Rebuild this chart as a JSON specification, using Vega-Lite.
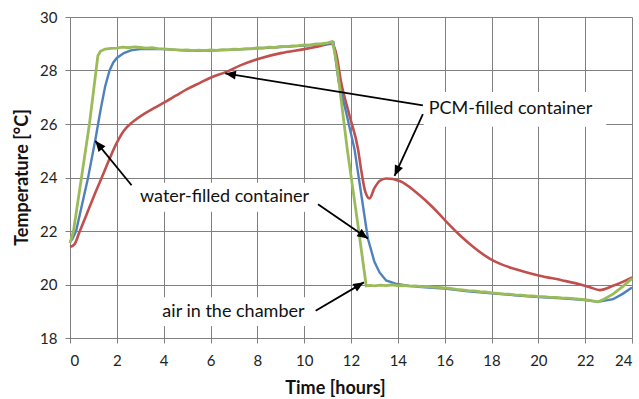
{
  "$schema": "https://vega.github.io/schema/vega-lite/v6.json",
  "width": 562,
  "height": 321,
  "autosize": "none",
  "padding": {"left": 70, "top": 17, "right": 7, "bottom": 61},
  "background": "white",
  "config": {
    "view": {"stroke": null},
    "font": "Lato",
    "axis": {
      "gridColor": "#808080", "gridOpacity": 1, "gridWidth": 1,
      "domainColor": "#808080", "domainWidth": 1,
      "tickColor": "#808080", "tickSize": 5,
      "labelFont": "Lato", "labelFontSize": 15, "labelColor": "#222222",
      "titleFont": "Lato", "titleFontSize": 18, "titleFontWeight": "bold", "titleColor": "#111111"
    }
  },
  "datasets": {
    "series": [
      {"s": "PCM", "t": 0, "v": 21.4}, {"s": "PCM", "t": 0.19, "v": 21.5}, {"s": "PCM", "t": 0.4, "v": 21.95}, {"s": "PCM", "t": 0.7, "v": 22.6}, {"s": "PCM", "t": 1.02, "v": 23.3}, {"s": "PCM", "t": 1.33, "v": 23.94}, {"s": "PCM", "t": 1.5, "v": 24.3}, {"s": "PCM", "t": 1.97, "v": 25.25}, {"s": "PCM", "t": 2.3, "v": 25.75}, {"s": "PCM", "t": 2.68, "v": 26.08}, {"s": "PCM", "t": 3.2, "v": 26.4}, {"s": "PCM", "t": 3.6, "v": 26.6}, {"s": "PCM", "t": 4.11, "v": 26.85}, {"s": "PCM", "t": 4.54, "v": 27.07}, {"s": "PCM", "t": 5, "v": 27.3}, {"s": "PCM", "t": 5.53, "v": 27.53}, {"s": "PCM", "t": 6, "v": 27.73}, {"s": "PCM", "t": 6.67, "v": 27.95}, {"s": "PCM", "t": 7.3, "v": 28.2}, {"s": "PCM", "t": 8.1, "v": 28.45}, {"s": "PCM", "t": 9, "v": 28.65}, {"s": "PCM", "t": 10, "v": 28.8}, {"s": "PCM", "t": 10.6, "v": 28.9}, {"s": "PCM", "t": 11.16, "v": 29.0}, {"s": "PCM", "t": 11.35, "v": 28.7}, {"s": "PCM", "t": 11.58, "v": 27.55}, {"s": "PCM", "t": 11.94, "v": 26.3}, {"s": "PCM", "t": 12.3, "v": 25.06}, {"s": "PCM", "t": 12.45, "v": 24.2}, {"s": "PCM", "t": 12.6, "v": 23.5}, {"s": "PCM", "t": 12.79, "v": 23.22}, {"s": "PCM", "t": 13, "v": 23.6}, {"s": "PCM", "t": 13.22, "v": 23.87}, {"s": "PCM", "t": 13.5, "v": 23.96}, {"s": "PCM", "t": 14.08, "v": 23.87}, {"s": "PCM", "t": 14.79, "v": 23.44}, {"s": "PCM", "t": 15.5, "v": 22.88}, {"s": "PCM", "t": 15.93, "v": 22.48}, {"s": "PCM", "t": 16.64, "v": 21.85}, {"s": "PCM", "t": 17.2, "v": 21.42}, {"s": "PCM", "t": 17.92, "v": 20.97}, {"s": "PCM", "t": 18.35, "v": 20.78}, {"s": "PCM", "t": 19, "v": 20.58}, {"s": "PCM", "t": 20.06, "v": 20.33}, {"s": "PCM", "t": 21, "v": 20.16}, {"s": "PCM", "t": 21.76, "v": 20.01}, {"s": "PCM", "t": 22.2, "v": 19.9}, {"s": "PCM", "t": 22.62, "v": 19.79}, {"s": "PCM", "t": 23.19, "v": 19.95}, {"s": "PCM", "t": 23.6, "v": 20.1}, {"s": "PCM", "t": 24, "v": 20.27},

      {"s": "water", "t": 0, "v": 21.6}, {"s": "water", "t": 0.1, "v": 21.7}, {"s": "water", "t": 0.26, "v": 22.0}, {"s": "water", "t": 0.76, "v": 23.94}, {"s": "water", "t": 1.08, "v": 25.4}, {"s": "water", "t": 1.3, "v": 26.5}, {"s": "water", "t": 1.5, "v": 27.4}, {"s": "water", "t": 1.69, "v": 28.0}, {"s": "water", "t": 1.85, "v": 28.3}, {"s": "water", "t": 2.0, "v": 28.47}, {"s": "water", "t": 2.3, "v": 28.65}, {"s": "water", "t": 2.6, "v": 28.75}, {"s": "water", "t": 3, "v": 28.8}, {"s": "water", "t": 3.5, "v": 28.81}, {"s": "water", "t": 4, "v": 28.8}, {"s": "water", "t": 4.5, "v": 28.77}, {"s": "water", "t": 5, "v": 28.75}, {"s": "water", "t": 5.5, "v": 28.74}, {"s": "water", "t": 6, "v": 28.75}, {"s": "water", "t": 6.5, "v": 28.76}, {"s": "water", "t": 7, "v": 28.78}, {"s": "water", "t": 7.5, "v": 28.8}, {"s": "water", "t": 8, "v": 28.83}, {"s": "water", "t": 8.5, "v": 28.85}, {"s": "water", "t": 9, "v": 28.88}, {"s": "water", "t": 9.5, "v": 28.9}, {"s": "water", "t": 10, "v": 28.93}, {"s": "water", "t": 10.5, "v": 28.97}, {"s": "water", "t": 11, "v": 29.0}, {"s": "water", "t": 11.25, "v": 29.05}, {"s": "water", "t": 11.47, "v": 27.6}, {"s": "water", "t": 11.8, "v": 26.4}, {"s": "water", "t": 12.15, "v": 25.06}, {"s": "water", "t": 12.45, "v": 23.3}, {"s": "water", "t": 12.72, "v": 21.72}, {"s": "water", "t": 13.0, "v": 20.85}, {"s": "water", "t": 13.22, "v": 20.45}, {"s": "water", "t": 13.5, "v": 20.15}, {"s": "water", "t": 13.9, "v": 20.03}, {"s": "water", "t": 14.5, "v": 19.95}, {"s": "water", "t": 15, "v": 19.9}, {"s": "water", "t": 16, "v": 19.85}, {"s": "water", "t": 17, "v": 19.75}, {"s": "water", "t": 18, "v": 19.67}, {"s": "water", "t": 19, "v": 19.6}, {"s": "water", "t": 20, "v": 19.53}, {"s": "water", "t": 21, "v": 19.48}, {"s": "water", "t": 22, "v": 19.42}, {"s": "water", "t": 22.55, "v": 19.35}, {"s": "water", "t": 23.19, "v": 19.45}, {"s": "water", "t": 23.6, "v": 19.65}, {"s": "water", "t": 24, "v": 19.89},

      {"s": "air", "t": 0, "v": 21.55}, {"s": "air", "t": 0.15, "v": 22.0}, {"s": "air", "t": 0.48, "v": 23.94}, {"s": "air", "t": 0.83, "v": 26.0}, {"s": "air", "t": 1.0, "v": 27.2}, {"s": "air", "t": 1.19, "v": 28.55}, {"s": "air", "t": 1.3, "v": 28.72}, {"s": "air", "t": 1.5, "v": 28.8}, {"s": "air", "t": 1.75, "v": 28.83}, {"s": "air", "t": 2, "v": 28.84}, {"s": "air", "t": 2.25, "v": 28.87}, {"s": "air", "t": 2.5, "v": 28.85}, {"s": "air", "t": 2.75, "v": 28.88}, {"s": "air", "t": 3, "v": 28.86}, {"s": "air", "t": 3.25, "v": 28.84}, {"s": "air", "t": 3.5, "v": 28.85}, {"s": "air", "t": 3.75, "v": 28.82}, {"s": "air", "t": 4, "v": 28.81}, {"s": "air", "t": 4.25, "v": 28.79}, {"s": "air", "t": 4.5, "v": 28.78}, {"s": "air", "t": 4.75, "v": 28.76}, {"s": "air", "t": 5, "v": 28.77}, {"s": "air", "t": 5.25, "v": 28.74}, {"s": "air", "t": 5.5, "v": 28.76}, {"s": "air", "t": 5.75, "v": 28.74}, {"s": "air", "t": 6, "v": 28.77}, {"s": "air", "t": 6.25, "v": 28.75}, {"s": "air", "t": 6.5, "v": 28.78}, {"s": "air", "t": 6.75, "v": 28.77}, {"s": "air", "t": 7, "v": 28.8}, {"s": "air", "t": 7.25, "v": 28.79}, {"s": "air", "t": 7.5, "v": 28.82}, {"s": "air", "t": 7.75, "v": 28.81}, {"s": "air", "t": 8, "v": 28.85}, {"s": "air", "t": 8.25, "v": 28.84}, {"s": "air", "t": 8.5, "v": 28.87}, {"s": "air", "t": 8.75, "v": 28.86}, {"s": "air", "t": 9, "v": 28.9}, {"s": "air", "t": 9.25, "v": 28.89}, {"s": "air", "t": 9.5, "v": 28.92}, {"s": "air", "t": 9.75, "v": 28.93}, {"s": "air", "t": 10, "v": 28.96}, {"s": "air", "t": 10.25, "v": 28.95}, {"s": "air", "t": 10.5, "v": 28.99}, {"s": "air", "t": 10.75, "v": 29.0}, {"s": "air", "t": 11, "v": 29.03}, {"s": "air", "t": 11.2, "v": 29.08}, {"s": "air", "t": 11.3, "v": 28.7}, {"s": "air", "t": 11.4, "v": 28.17}, {"s": "air", "t": 11.84, "v": 25.06}, {"s": "air", "t": 12.3, "v": 22.2}, {"s": "air", "t": 12.65, "v": 19.95}, {"s": "air", "t": 12.8, "v": 19.97}, {"s": "air", "t": 13, "v": 19.95}, {"s": "air", "t": 13.25, "v": 19.98}, {"s": "air", "t": 13.5, "v": 19.96}, {"s": "air", "t": 13.75, "v": 19.99}, {"s": "air", "t": 14, "v": 19.96}, {"s": "air", "t": 14.25, "v": 19.97}, {"s": "air", "t": 14.5, "v": 19.94}, {"s": "air", "t": 14.75, "v": 19.95}, {"s": "air", "t": 15, "v": 19.92}, {"s": "air", "t": 15.25, "v": 19.93}, {"s": "air", "t": 15.5, "v": 19.9}, {"s": "air", "t": 15.75, "v": 19.89}, {"s": "air", "t": 16, "v": 19.87}, {"s": "air", "t": 16.25, "v": 19.85}, {"s": "air", "t": 16.5, "v": 19.82}, {"s": "air", "t": 16.75, "v": 19.8}, {"s": "air", "t": 17, "v": 19.77}, {"s": "air", "t": 17.25, "v": 19.76}, {"s": "air", "t": 17.5, "v": 19.73}, {"s": "air", "t": 17.75, "v": 19.72}, {"s": "air", "t": 18, "v": 19.69}, {"s": "air", "t": 18.25, "v": 19.67}, {"s": "air", "t": 18.5, "v": 19.65}, {"s": "air", "t": 18.75, "v": 19.64}, {"s": "air", "t": 19, "v": 19.61}, {"s": "air", "t": 19.25, "v": 19.6}, {"s": "air", "t": 19.5, "v": 19.58}, {"s": "air", "t": 19.75, "v": 19.57}, {"s": "air", "t": 20, "v": 19.55}, {"s": "air", "t": 20.25, "v": 19.55}, {"s": "air", "t": 20.5, "v": 19.52}, {"s": "air", "t": 20.75, "v": 19.52}, {"s": "air", "t": 21, "v": 19.5}, {"s": "air", "t": 21.25, "v": 19.49}, {"s": "air", "t": 21.5, "v": 19.47}, {"s": "air", "t": 21.75, "v": 19.45}, {"s": "air", "t": 22, "v": 19.43}, {"s": "air", "t": 22.25, "v": 19.4}, {"s": "air", "t": 22.55, "v": 19.35}, {"s": "air", "t": 22.8, "v": 19.45}, {"s": "air", "t": 23.2, "v": 19.65}, {"s": "air", "t": 23.6, "v": 19.92}, {"s": "air", "t": 24, "v": 20.23}
    ],
    "boxes": [
      {"bx1": 15.1, "bx2": 22.9, "by1": 25.9, "by2": 27.2},
      {"bx1": 2.7, "bx2": 10.55, "by1": 22.72, "by2": 23.8},
      {"bx1": 3.5, "bx2": 10.45, "by1": 18.45, "by2": 19.52}
    ],
    "labels": [
      {"label": "PCM-filled container", "x": 18.81, "y": 26.55},
      {"label": "water-filled container", "x": 6.6, "y": 23.26},
      {"label": "air in the chamber", "x": 6.98, "y": 18.97}
    ],
    "arrows": [
      {"x1": 15.07, "y1": 26.7, "x2": 6.63, "y2": 27.89, "angle": -80.9},
      {"x1": 15.07, "y1": 26.37, "x2": 13.86, "y2": 24.06, "angle": -155.4},
      {"x1": 2.63, "y1": 23.71, "x2": 1.08, "y2": 25.37, "angle": -39.3},
      {"x1": 10.59, "y1": 23.0, "x2": 12.72, "y2": 21.72, "angle": 124.4},
      {"x1": 10.49, "y1": 19.02, "x2": 12.55, "y2": 20.08, "angle": 59.5}
    ]
  },
  "layer": [
    {
      "data": {"name": "boxes"},
      "mark": {"type": "rect", "fill": "white", "stroke": null},
      "encoding": {
        "x": {"field": "bx1", "type": "quantitative", "scale": {"domain": [0, 24], "nice": false, "zero": false},
              "axis": {"values": [0,2,4,6,8,10,12,14,16,18,20,22,24], "title": "Time [hours]", "grid": true, "labelPadding": 10, "titleX": 265, "titleY": 55, "titleBaseline": "alphabetic", "titleAnchor": null}},
        "x2": {"field": "bx2"},
        "y": {"field": "by1", "type": "quantitative", "scale": {"domain": [18, 30], "nice": false, "zero": false},
              "axis": {"values": [18,20,22,24,26,28,30], "title": "Temperature [°C]", "grid": true, "labelPadding": 8, "titleX": -48, "titleY": 160, "titleAngle": -90, "titleAlign": "center", "titleBaseline": "middle"}},
        "y2": {"field": "by2"}
      }
    },
    {
      "data": {"name": "series"},
      "transform": [{"filter": "datum.s === 'PCM'"}],
      "mark": {"type": "line", "color": "#C0504D", "strokeWidth": 2.6, "interpolate": "monotone"},
      "encoding": {"x": {"field": "t", "type": "quantitative"}, "y": {"field": "v", "type": "quantitative"}}
    },
    {
      "data": {"name": "series"},
      "transform": [{"filter": "datum.s === 'water'"}],
      "mark": {"type": "line", "color": "#4F81BD", "strokeWidth": 2.4},
      "encoding": {"x": {"field": "t", "type": "quantitative"}, "y": {"field": "v", "type": "quantitative"}}
    },
    {
      "data": {"name": "series"},
      "transform": [{"filter": "datum.s === 'air'"}],
      "mark": {"type": "line", "color": "#9BBB59", "strokeWidth": 2.8},
      "encoding": {"x": {"field": "t", "type": "quantitative"}, "y": {"field": "v", "type": "quantitative"}}
    },
    {
      "data": {"name": "arrows"},
      "mark": {"type": "rule", "color": "black", "strokeWidth": 1.8},
      "encoding": {
        "x": {"field": "x1", "type": "quantitative"}, "y": {"field": "y1", "type": "quantitative"},
        "x2": {"field": "x2"}, "y2": {"field": "y2"}
      }
    },
    {
      "data": {"name": "arrows"},
      "mark": {"type": "point", "shape": "M0,0L-0.42,1L0.42,1Z", "filled": true, "color": "black", "size": 450, "opacity": 1},
      "encoding": {
        "x": {"field": "x2", "type": "quantitative"}, "y": {"field": "y2", "type": "quantitative"},
        "angle": {"field": "angle", "type": "quantitative", "scale": null}
      }
    },
    {
      "data": {"name": "labels"},
      "mark": {"type": "text", "font": "Lato", "fontSize": 18, "color": "#111111", "align": "center", "baseline": "middle"},
      "encoding": {
        "x": {"field": "x", "type": "quantitative"}, "y": {"field": "y", "type": "quantitative"},
        "text": {"field": "label"}
      }
    }
  ]
}
